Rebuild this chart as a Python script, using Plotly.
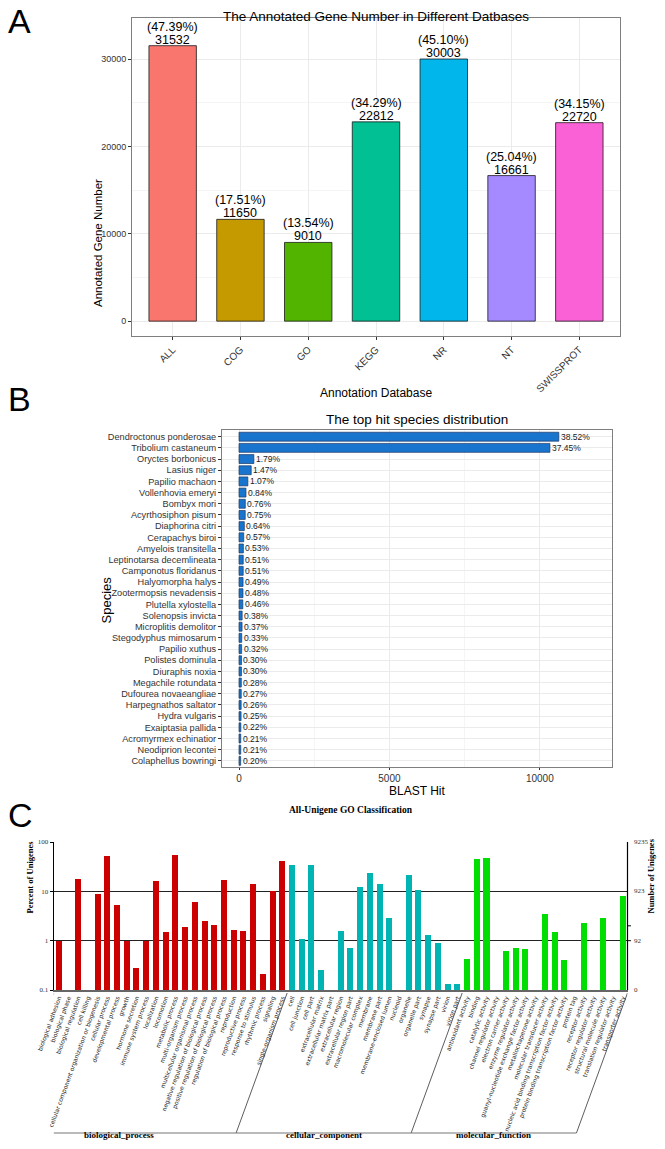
import math
import plotly.graph_objects as go

W, H = 665, 1149

# ---------------- data ----------------
# Panel A
db_names = ["ALL", "COG", "GO", "KEGG", "NR", "NT", "SWISSPROT"]
db_counts = [31532, 11650, 9010, 22812, 30003, 16661, 22720]
db_pcts = ["47.39%", "17.51%", "13.54%", "34.29%", "45.10%", "25.04%", "34.15%"]
db_colors = ["#F8766D", "#C49A00", "#53B400", "#00C094", "#00B6EB", "#A58AFF", "#FB61D7"]
a_ticks = [0, 10000, 20000, 30000]
a_ticktext = ["0", "10000", "20000", "30000"]

# Panel B
species = ["Dendroctonus ponderosae", "Tribolium castaneum", "Oryctes borbonicus", "Lasius niger",
           "Papilio machaon", "Vollenhovia emeryi", "Bombyx mori", "Acyrthosiphon pisum",
           "Diaphorina citri", "Cerapachys biroi", "Amyelois transitella", "Leptinotarsa decemlineata",
           "Camponotus floridanus", "Halyomorpha halys", "Zootermopsis nevadensis", "Plutella xylostella",
           "Solenopsis invicta", "Microplitis demolitor", "Stegodyphus mimosarum", "Papilio xuthus",
           "Polistes dominula", "Diuraphis noxia", "Megachile rotundata", "Dufourea novaeangliae",
           "Harpegnathos saltator", "Hydra vulgaris", "Exaiptasia pallida", "Acromyrmex echinatior",
           "Neodiprion lecontei", "Colaphellus bowringi"]
species_hits = [10632, 10336, 494, 406, 295, 232, 210, 207, 177, 157, 146, 141, 140, 135, 132, 127,
                105, 102, 91, 88, 83, 82, 77, 75, 72, 69, 61, 58, 58, 55]
species_pcts = ["38.52%", "37.45%", "1.79%", "1.47%", "1.07%", "0.84%", "0.76%", "0.75%", "0.64%",
                "0.57%", "0.53%", "0.51%", "0.51%", "0.49%", "0.48%", "0.46%", "0.38%", "0.37%",
                "0.33%", "0.32%", "0.30%", "0.30%", "0.28%", "0.27%", "0.26%", "0.25%", "0.22%",
                "0.21%", "0.21%", "0.20%"]
b_ticks = [0, 5000, 10000]
b_ticktext = ["0", "5000", "10000"]

# Panel C
bp_terms = ["biological adhesion", "biological phase", "biological regulation", "cell killing",
            "cellular component organization or biogenesis", "cellular process", "developmental process",
            "growth", "hormone secretion", "immune system process", "localization", "locomotion",
            "metabolic process", "multi-organism process", "multicellular organismal process",
            "negative regulation of biological process", "positive regulation of biological process",
            "regulation of biological process", "reproduction", "reproductive process",
            "response to stimulus", "rhythmic process", "signaling", "single-organism process"]
bp_pct = [1.0, None, 18, None, 8.8, 52, 5.4, 1.0, 0.28, 1.0, 16, 1.52, 54, 1.9, 6.05, 2.47, 2.05,
          17, 1.65, 1.55, 14, 0.21, 10, 42]
cc_terms = ["cell", "cell junction", "cell part", "extracellular matrix", "extracellular matrix part",
            "extracellular region", "extracellular region part", "macromolecular complex", "membrane",
            "membrane part", "membrane-enclosed lumen", "nucleoid", "organelle", "organelle part",
            "synapse", "synapse part", "virion", "virion part"]
cc_pct = [34, 1.07, 34, 0.25, None, 1.59, 0.70, 12.2, 23, 14.4, 2.83, None, 21, 10.7, 1.32, 0.89,
          0.134, 0.134]
mf_terms = ["antioxidant activity", "binding", "catalytic activity", "channel regulator activity",
            "electron carrier activity", "enzyme regulator activity",
            "guanyl-nucleotide exchange factor activity", "metallochaperone activity",
            "molecular transducer activity", "nucleic acid binding transcription factor activity",
            "protein binding transcription factor activity", "protein tag", "receptor activity",
            "receptor regulator activity", "structural molecule activity", "translation regulator activity",
            "transporter activity"]
mf_pct = [0.42, 46, 47, None, 0.63, 0.72, 0.68, None, 3.4, 1.5, 0.40, None, 2.3, None, 2.87, None, 8.0]
go_groups = ["biological_process", "cellular_component", "molecular_function"]
go_colors = ["#CC0000", "#00B4B4", "#00DD00"]
left_ticks = [0.1, 1, 10, 100]
left_ticktext = ["0.1", "1", "10", "100"]
right_ticktext = ["0", "92", "923", "9235"]


def px(x):
    return x / W


def py(y):
    return 1 - y / H


SANS = "Liberation Sans, Arial, sans-serif"
SERIF = "Liberation Serif, Times New Roman, serif"
VERD = "DejaVu Sans, Verdana, sans-serif"

fig = go.Figure()

# ---------------- Panel A ----------------
fig.add_trace(go.Bar(x=db_names, y=db_counts, marker=dict(color=db_colors, line=dict(color="#1a1a1a", width=0.8)),
                     width=0.7, xaxis="x", yaxis="y", showlegend=False))

# ---------------- Panel B ----------------
fig.add_trace(go.Bar(x=species_hits, y=species, orientation="h", width=0.8,
                     marker=dict(color="#1874CD", line=dict(color="#1B3A66", width=0.7)),
                     xaxis="x2", yaxis="y2", showlegend=False))

# ---------------- Panel C ----------------
all_terms = bp_terms + cc_terms + mf_terms
for terms, vals, col in zip([bp_terms, cc_terms, mf_terms], [bp_pct, cc_pct, mf_pct], go_colors):
    fig.add_trace(go.Bar(x=terms, y=vals, width=0.62, marker=dict(color=col, line=dict(width=0)),
                         xaxis="x3", yaxis="y3", showlegend=False))

annotations = []
shapes = []

# Panel letters
for letter, ytop in zip(["A", "B", "C"], [0, 378, 794]):
    annotations.append(dict(text=letter, x=px(6), y=py(ytop), xref="paper", yref="paper",
                            xanchor="left", yanchor="top", showarrow=False,
                            font=dict(family=SANS, size=34, color="black")))

# Panel A labels
for name, cnt, pct in zip(db_names, db_counts, db_pcts):
    annotations.append(dict(text=str(cnt), x=name, y=cnt, xref="x", yref="y",
                            yanchor="bottom", showarrow=False, yshift=-3,
                            font=dict(family=SANS, size=12.5, color="black")))
    annotations.append(dict(text=f"({pct})", x=name, y=cnt, xref="x", yref="y",
                            yanchor="bottom", showarrow=False, yshift=10,
                            font=dict(family=SANS, size=12.5, color="black")))
annotations.append(dict(text="The Annotated Gene Number in Different Datbases", x=px(376), y=py(7),
                        xref="paper", yref="paper", showarrow=False,
                        font=dict(family=SANS, size=13.5, color="black")))
annotations.append(dict(text="Annotation Database", x=px(376), y=py(393), xref="paper", yref="paper",
                        showarrow=False, font=dict(family=SANS, size=12, color="black")))
annotations.append(dict(text="Annotated Gene Number", x=px(90), y=py(177), xref="paper", yref="paper",
                        showarrow=False, textangle=-90, font=dict(family=SANS, size=11.5, color="black")))

# Panel B labels
for name, hit, pct in zip(species, species_hits, species_pcts):
    annotations.append(dict(text=pct, x=hit, y=name, xref="x2", yref="y2", xanchor="left",
                            showarrow=False, xshift=0, font=dict(family=SANS, size=8.5, color="#1a1a1a")))
annotations.append(dict(text="The top hit species distribution", x=px(417), y=py(419), xref="paper",
                        yref="paper", showarrow=False, font=dict(family=SANS, size=13.5, color="black")))
annotations.append(dict(text="BLAST Hit", x=px(417), y=py(800), xref="paper", yref="paper",
                        showarrow=False, font=dict(family=SANS, size=12, color="black")))
annotations.append(dict(text="Species", x=px(96), y=py(600), xref="paper", yref="paper",
                        showarrow=False, textangle=-90, font=dict(family=SANS, size=13, color="black")))

# Panel C labels
annotations.append(dict(text="<b>All-Unigene GO Classification</b>", x=px(351), y=py(817), xref="paper",
                        yref="paper", showarrow=False, font=dict(family=SERIF, size=9.5, color="black")))
annotations.append(dict(text="<b>Percent of Unigenes</b>", x=px(23), y=py(916), xref="paper",
                        yref="paper", showarrow=False, textangle=-90,
                        font=dict(family=SERIF, size=8.5, color="black")))
annotations.append(dict(text="<b>Number of Unigenes</b>", x=px(658), y=py(916), xref="paper",
                        yref="paper", showarrow=False, textangle=-90,
                        font=dict(family=SERIF, size=8.5, color="black")))
for tv, tt in zip(left_ticks, right_ticktext):
    ly = math.log10(tv)
    annotations.append(dict(text=tt, x=1, y=ly, xref="x3 domain", yref="y3", xanchor="left",
                            showarrow=False, xshift=4, font=dict(family=SERIF, size=7, color="#333")))
    shapes.append(dict(type="line", xref="x3 domain", yref="y3", x0=1, x1=1.006, y0=ly, y1=ly,
                       line=dict(color="black", width=1)))
shapes.append(dict(type="line", xref="x3 domain", yref="y3 domain", x0=1, x1=1, y0=0, y1=1,
                   line=dict(color="black", width=1.2)))

# group brackets (slanted along label direction)
SLANT = 5.25
y_top_br = py(993)
y_bot_br = py(1133)
sizes = [len(bp_terms), len(cc_terms), len(mf_terms)]
bounds = [-0.5]
for s in sizes:
    bounds.append(bounds[-1] + s)
for b in bounds:
    shapes.append(dict(type="line", xref="x3", yref="paper", x0=b, x1=b - SLANT, y0=y_top_br, y1=y_bot_br,
                       line=dict(color="#333", width=0.8)))
shapes.append(dict(type="line", xref="x3", yref="paper", x0=bounds[0] - SLANT, x1=bounds[-1] - SLANT,
                   y0=y_bot_br, y1=y_bot_br, line=dict(color="#777", width=1.2)))
for g, b0, b1 in zip(go_groups, bounds[:-1], bounds[1:]):
    annotations.append(dict(text=f"<b>{g}</b>", x=(b0 + b1) / 2 - SLANT, y=py(1142), xref="x3",
                            yref="paper", showarrow=False, font=dict(family=SERIF, size=9, color="black")))

common = dict(automargin=False, fixedrange=True)

fig.update_layout(
    template="none",
    width=W, height=H, margin=dict(l=0, r=0, t=0, b=0, pad=0),
    paper_bgcolor="white", plot_bgcolor="white", showlegend=False, bargap=0,
    annotations=annotations, shapes=shapes,
    # ---- A ----
    xaxis=dict(domain=[px(132), px(620)], anchor="y", range=[-0.6, 6.6], tickangle=-45,
               tickfont=dict(family=SANS, size=10, color="#333"), showline=True, mirror=True,
               linecolor="#7F7F7F", linewidth=1, showgrid=True, gridcolor="#EBEBEB", zeroline=False,
               ticks="outside", ticklen=3, tickcolor="#333", **common),
    yaxis=dict(domain=[py(336), py(18)], anchor="x", range=[-1700, 34700],
               tickmode="array", tickvals=a_ticks, ticktext=a_ticktext,
               tickfont=dict(family=SANS, size=9, color="#333"),
               showline=True, mirror=True, linecolor="#7F7F7F", linewidth=1, showgrid=True,
               gridcolor="#EBEBEB", zeroline=False, ticks="outside", ticklen=3, tickcolor="#333",
               minor=dict(tickvals=[5000, 15000, 25000], showgrid=True, gridcolor="#F5F5F5", ticks=""),
               **common),
    # ---- B ----
    xaxis2=dict(domain=[px(222), px(612)], anchor="y2", range=[-565, 12400],
                tickmode="array", tickvals=b_ticks, ticktext=b_ticktext,
                tickfont=dict(family=SANS, size=10, color="#333"), showline=True, mirror=True,
                linecolor="#7F7F7F", linewidth=1, showgrid=True, gridcolor="#EBEBEB", zeroline=False,
                ticks="outside", ticklen=2, tickcolor="#333",
                minor=dict(tickvals=[2500, 7500, 12500], showgrid=True, gridcolor="#F5F5F5", ticks=""),
                **common),
    yaxis2=dict(domain=[py(767), py(430)], anchor="x2", categoryorder="array", categoryarray=species,
                range=[len(species) - 0.45, -0.6], tickfont=dict(family=SANS, size=9.2, color="#333"),
                showline=True, mirror=True, linecolor="#7F7F7F", linewidth=1, showgrid=True,
                gridcolor="#EBEBEB", zeroline=False, ticks="outside", ticklen=3, tickcolor="#333", **common),
    # ---- C ----
    xaxis3=dict(domain=[px(53.8), px(627.5)], anchor="y3", range=[-0.5, len(all_terms) - 0.5],
                categoryorder="array", categoryarray=all_terms, tickmode="array", tickvals=all_terms,
                tickangle=-70, tickfont=dict(family=VERD, size=6, color="#222"), showline=True,
                linecolor="#666", linewidth=2, showgrid=False, ticks="", zeroline=False, **common),
    yaxis3=dict(domain=[py(990), py(842)], anchor="x3", type="log", range=[-1, 2],
                tickmode="array", tickvals=left_ticks,
                ticktext=left_ticktext, tickfont=dict(family=SERIF, size=7, color="#333"),
                showline=True, linecolor="black", linewidth=1.2, showgrid=True, gridcolor="#222",
                gridwidth=1.3, ticks="outside", ticklen=3, tickcolor="black", zeroline=False, **common),
)

fig.write_html("out.html", config={"displayModeBar": False, "staticPlot": True},
               post_script="document.body.style.margin='0';document.body.style.overflow='hidden';"
                           "document.documentElement.style.overflow='hidden';")
